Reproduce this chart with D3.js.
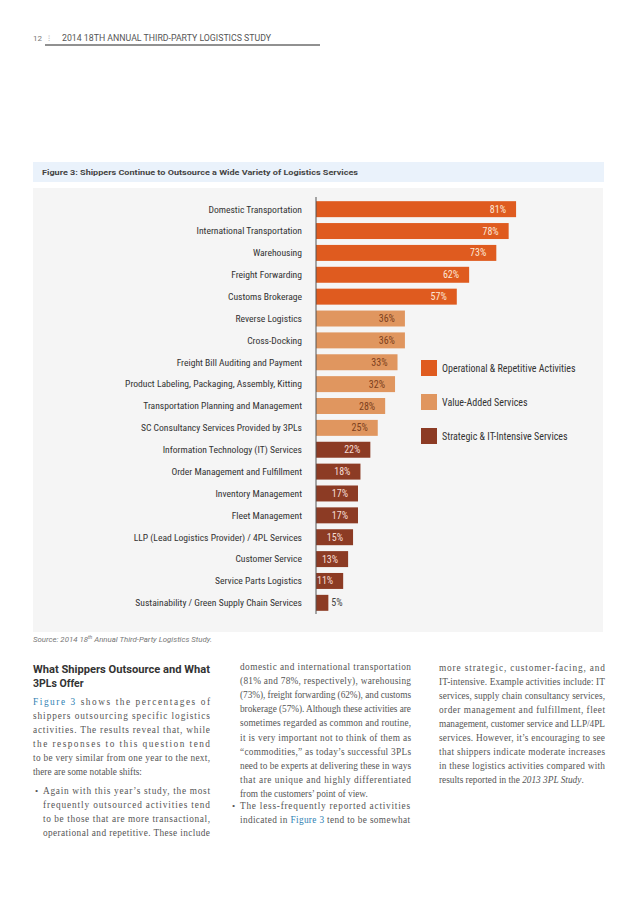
<!DOCTYPE html>
<html><head><meta charset="utf-8">
<script src="https://cdn.jsdelivr.net/npm/d3@7/dist/d3.min.js"></script>
<style>
html,body{margin:0;padding:0;background:#fff;}
svg{display:block;}
</style></head>
<body>
<script>
// ---- data ----
const categories = [
  "Domestic Transportation","International Transportation","Warehousing","Freight Forwarding",
  "Customs Brokerage","Reverse Logistics","Cross-Docking","Freight Bill Auditing and Payment",
  "Product Labeling, Packaging, Assembly, Kitting","Transportation Planning and Management",
  "SC Consultancy Services Provided by 3PLs","Information Technology (IT) Services",
  "Order Management and Fulfillment","Inventory Management","Fleet Management",
  "LLP (Lead Logistics Provider) / 4PL Services","Customer Service","Service Parts Logistics",
  "Sustainability / Green Supply Chain Services"];
const values = [81,78,73,62,57,36,36,33,32,28,25,22,18,17,17,15,13,11,5];
const groups = ["op","op","op","op","op","va","va","va","va","va","va","st","st","st","st","st","st","st","st"];
const groupKeys = ["op","va","st"];
const groupLabels = ["Operational & Repetitive Activities","Value-Added Services","Strategic & IT-Intensive Services"];
const groupColors = ["#df5b1f","#e0965f","#8c3b24"];
const valueTextColors = ["#fde6d6","#7d3f1c","#f6ddd4"];

const W = 638, H = 903;
const svg = d3.select("body").append("svg").attr("width", W).attr("height", H);
svg.append("rect").attr("width", W).attr("height", H).attr("fill", "#fff");

const narrow = "'Liberation Sans Narrow','Arial Narrow','Roboto Condensed',sans-serif";
const sans = "Roboto,'Liberation Sans',sans-serif";
const serif = "'Liberation Serif','DejaVu Serif',serif";

// ---- header ----
svg.append("text").attr("x", 33).attr("y", 41).attr("font-family", sans).attr("font-size", 8)
  .attr("fill", "#777").text("12");
svg.append("text").attr("x", 48).attr("y", 41).attr("font-family", sans).attr("font-size", 8)
  .attr("fill", "#aaa").text("⁝");
svg.append("text").attr("x", 62).attr("y", 41).attr("font-family", sans).attr("font-size", 8.5)
  .attr("fill", "#555").attr("textLength", 209).attr("lengthAdjust", "spacingAndGlyphs")
  .text("2014 18TH ANNUAL THIRD-PARTY LOGISTICS STUDY");
svg.append("line").attr("x1", 45).attr("x2", 320).attr("y1", 45).attr("y2", 45)
  .attr("stroke", "#222").attr("stroke-width", 1);

// ---- figure title bar ----
svg.append("rect").attr("x", 33).attr("y", 162).attr("width", 571).attr("height", 20).attr("fill", "#eaf2fb");
svg.append("text").attr("x", 42).attr("y", 175).attr("font-family", sans).attr("font-weight", "bold")
  .attr("font-size", 8).attr("fill", "#444").attr("textLength", 316).attr("lengthAdjust", "spacingAndGlyphs")
  .text("Figure 3: Shippers Continue to Outsource a Wide Variety of Logistics Services");

// ---- chart panel ----
svg.append("rect").attr("x", 33).attr("y", 188).attr("width", 570).attr("height", 444).attr("fill", "#f5f5f5");

const x = d3.scaleLinear().domain([0, 100]).range([316, 563]);
const y = d3.scaleBand().domain(categories).range([199, 613]).paddingInner(0.27).paddingOuter(0.1);
const color = d3.scaleOrdinal().domain(groupKeys).range(groupColors);
const tcolor = d3.scaleOrdinal().domain(groupKeys).range(valueTextColors);

const rows = categories.map((c, i) => ({c, v: values[i], g: groups[i]}));

svg.append("g").selectAll("rect").data(rows).join("rect")
  .attr("x", x(0)).attr("y", d => y(d.c))
  .attr("width", d => x(d.v) - x(0)).attr("height", y.bandwidth())
  .attr("fill", d => color(d.g));

svg.append("g").selectAll("text").data(rows).join("text")
  .attr("x", x(0) - 14).attr("y", d => y(d.c) + y.bandwidth() / 2)
  .attr("dy", "0.35em").attr("text-anchor", "end")
  .attr("font-family", narrow).attr("font-size", 9.6).attr("fill", "#333")
  .text(d => d.c);

svg.append("g").selectAll("text").data(rows).join("text")
  .attr("x", d => (x(d.v) - x(0) < 25) ? x(d.v) + 3 : x(d.v) - 10)
  .attr("y", d => y(d.c) + y.bandwidth() / 2)
  .attr("dy", "0.35em")
  .attr("text-anchor", d => (x(d.v) - x(0) < 25) ? "start" : "end")
  .attr("font-family", narrow).attr("font-size", 10)
  .attr("fill", d => (x(d.v) - x(0) < 25) ? "#444" : tcolor(d.g))
  .text(d => d.v + "%");

// axis line
const yAxis = d3.axisLeft(y).tickSize(0).tickFormat("");
const ag = svg.append("g").attr("transform", `translate(${x(0)},0)`).call(yAxis);
ag.select(".domain").attr("stroke", "#555").attr("d", `M0,197V614`);

// legend
const lg = svg.append("g").selectAll("g").data(groupKeys).join("g")
  .attr("transform", (d, i) => `translate(421,${360 + i * 34})`);
lg.append("rect").attr("width", 16).attr("height", 16).attr("fill", d => color(d));
lg.append("text").attr("x", 21).attr("y", 8).attr("dy", "0.35em")
  .attr("font-family", narrow).attr("font-size", 10).attr("fill", "#333")
  .text((d, i) => groupLabels[i]);

// ---- source ----
const src = svg.append("text").attr("x", 33).attr("y", 642).attr("font-family", sans)
  .attr("font-style", "italic").attr("font-size", 7).attr("fill", "#777")
  .attr("textLength", 179).attr("lengthAdjust", "spacingAndGlyphs");
src.append("tspan").text("Source: 2014 18");
src.append("tspan").attr("font-size", 4.5).attr("dy", -3).text("th");
src.append("tspan").attr("dy", 3).text(" Annual Third-Party Logistics Study.");

// ---- heading ----
svg.append("text").attr("x", 33).attr("y", 673).attr("font-family", sans).attr("font-weight", "bold")
  .attr("font-size", 10.5).attr("fill", "#333").attr("textLength", 177).attr("lengthAdjust", "spacingAndGlyphs")
  .text("What Shippers Outsource and What");
svg.append("text").attr("x", 33).attr("y", 687).attr("font-family", sans).attr("font-weight", "bold")
  .attr("font-size", 10.5).attr("fill", "#333").text("3PLs Offer");

// ---- body text ----
const bodyColor = "#555", linkColor = "#2f7fb3";
function line(x0, y0, width, parts, justify) {
  const t = svg.append("text").attr("x", x0).attr("y", y0).attr("font-family", serif)
    .attr("font-size", 9.3).attr("fill", bodyColor);
  if (justify) t.attr("textLength", width).attr("lengthAdjust", "spacing");
  parts.forEach(p => {
    const isObj = typeof p === "object";
    const s = t.append("tspan").text(isObj ? p.t : p);
    if (isObj && p.link === true) s.attr("fill", linkColor);
    if (isObj && p.it === true) s.attr("font-style", "italic");
  });
}
// column 1
const c1 = [
  [[{t:"Figure 3", link:true}, " shows the percentages of"], true],
  [["shippers outsourcing specific logistics"], true],
  [["activities. The results reveal that, while"], true],
  [["the responses to this question tend"], true],
  [["to be very similar from one year to the next,"], true],
  [["there are some notable shifts:"], false]];
c1.forEach((l, i) => line(33, 705 + i * 14, 177, l[0], l[1]));
svg.append("text").attr("x", 35).attr("y", 794).attr("font-family", serif).attr("font-size", 9)
  .attr("fill", bodyColor).text("•");
const c1b = ["Again with this year’s study, the most","frequently outsourced activities tend",
  "to be those that are more transactional,","operational and repetitive. These include"];
c1b.forEach((l, i) => line(43, 794 + i * 14, 167, [l], true));
// column 2
const c2 = [
  ["domestic and international transportation", true],
  ["(81% and 78%, respectively), warehousing", true],
  ["(73%), freight forwarding (62%), and customs", true],
  ["brokerage (57%). Although these activities are", true],
  ["sometimes regarded as common and routine,", true],
  ["it is very important not to think of them as", true],
  ["“commodities,” as today’s successful 3PLs", true],
  ["need to be experts at delivering these in ways", true],
  ["that are unique and highly differentiated", true],
  ["from the customers’ point of view.", false]];
c2.forEach((l, i) => line(240, 670 + i * 14.1, 171, [l[0]], l[1]));
svg.append("text").attr("x", 232).attr("y", 809).attr("font-family", serif).attr("font-size", 9)
  .attr("fill", bodyColor).text("•");
line(240, 809, 170, ["The less-frequently reported activities"], true);
line(240, 823, 170, ["indicated in ", {t:"Figure 3", link:true}, " tend to be somewhat"], true);
// column 3
const c3 = [
  [["more strategic, customer-facing, and"], true],
  [["IT-intensive. Example activities include: IT"], true],
  [["services, supply chain consultancy services,"], true],
  [["order management and fulfillment, fleet"], true],
  [["management, customer service and LLP/4PL"], true],
  [["services. However, it’s encouraging to see"], true],
  [["that shippers indicate moderate increases"], true],
  [["in these logistics activities compared with"], true],
  [["results reported in the ", {t:"2013 3PL Study", it:true}, "."], false]];
c3.forEach((l, i) => line(439, 671 + i * 14, 166, l[0], l[1]));
</script>
</body></html>
